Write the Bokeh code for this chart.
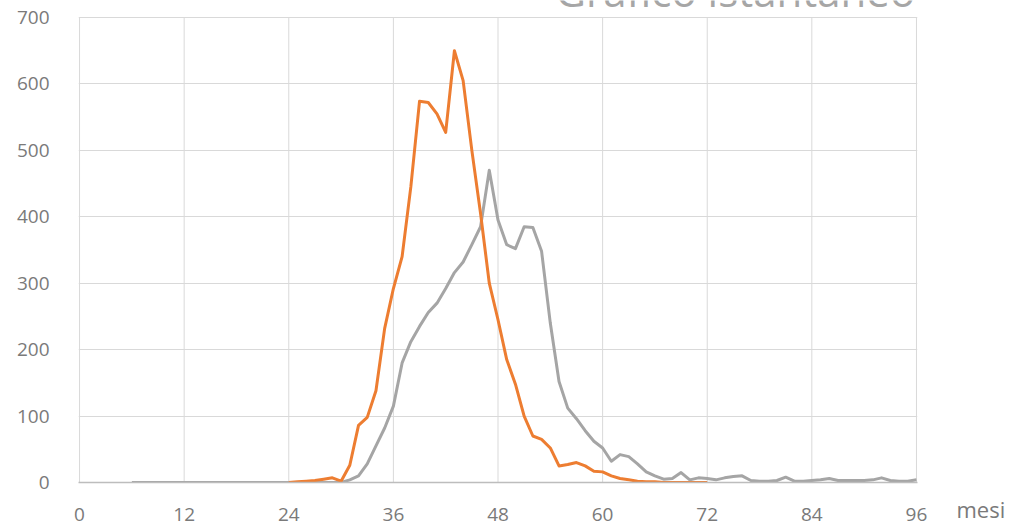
from bokeh.plotting import figure
from bokeh.models import FixedTicker, Label, Range1d
from bokeh.embed import file_html
from bokeh.resources import INLINE

# ---- data ----
x_ticks = [0, 12, 24, 36, 48, 60, 72, 84, 96]
y_ticks = [0, 100, 200, 300, 400, 500, 600, 700]
y_max = 700

gray_months = list(range(6, 97))
gray_values = [0] * 24 + [
    0, 4, 10, 28, 55, 82, 115, 180, 212, 235,      # 30-39
    256, 270, 292, 316, 332, 358, 385, 470, 395, 358,  # 40-49
    352, 385, 384, 348, 240, 152, 112, 96, 78, 62,  # 50-59
    52, 32, 42, 39, 28, 16, 10, 5, 6, 15,           # 60-69
    4, 7, 6, 4, 7, 9, 10, 3, 2, 2,                  # 70-79
    3, 8, 2, 2, 3, 4, 6, 3, 3, 3,                   # 80-89
    3, 4, 7, 3, 2, 2, 4,                            # 90-96
]

orange_months = list(range(24, 73))
orange_values = [
    0, 1, 2, 3, 5, 7,                               # 24-29
    2, 26, 86, 98, 138, 232, 292, 340, 445, 574,    # 30-39
    572, 555, 527, 650, 605, 500, 405, 300, 245, 185,  # 40-49
    148, 100, 70, 65, 52, 25, 27, 30, 25, 17,       # 50-59
    16, 10, 6, 4, 2, 1, 1, 0, 0, 0,                 # 60-69
    0, 0, 0,                                        # 70-72
]

title_text = "Grafico istantaneo"
x_unit_text = "mesi"

# ---- figure ----
# frame reaches the top of the canvas so the (cut-off) title is not clipped
p = figure(width=1012, height=526, output_backend="svg", toolbar_location=None,
           x_range=Range1d(-0.12, 96.12), y_range=Range1d(0, 725.6),
           min_border_left=78, min_border_right=95, min_border_top=0,
           min_border_bottom=44)
p.outline_line_color = None
p.background_fill_color = "white"
p.border_fill_color = "white"

tick_color = "#7a7a7a"
grid_color = "#d9d9d9"
font = "Open Sans"

p.xaxis.ticker = FixedTicker(ticks=x_ticks)
p.yaxis.ticker = FixedTicker(ticks=y_ticks)
for ax in (p.xaxis, p.yaxis):
    ax.major_tick_line_color = None
    ax.minor_tick_line_color = None
    ax.major_label_text_color = tick_color
    ax.major_label_text_font = font
    ax.major_label_text_font_size = "19px"
p.xaxis.axis_line_color = "#bdbdbd"
p.xaxis.axis_line_width = 1.5
p.yaxis.axis_line_color = None
p.xaxis.major_label_standoff = 19
p.yaxis.major_label_standoff = 23

# horizontal grid from the axis ticker, vertical grid lines stop at 700
p.ygrid.ticker = FixedTicker(ticks=y_ticks)
p.ygrid.grid_line_color = grid_color
p.ygrid.grid_line_width = 1
p.xgrid.visible = False
p.segment(x0=x_ticks, y0=[0] * len(x_ticks), x1=x_ticks,
          y1=[y_max] * len(x_ticks), line_color=grid_color, line_width=1)

p.line(gray_months, gray_values, line_color="#a5a5a5", line_width=3,
       line_join="round")
p.line(orange_months, orange_values, line_color="#ed7d31", line_width=3,
       line_join="round")

p.add_layout(Label(x=477, y=492, x_units="screen", y_units="screen",
                   text=title_text, text_font=font,
                   text_font_size="42px", text_color="#a6a6a6",
                   text_baseline="alphabetic", text_align="left"))
p.add_layout(Label(x=39, y=-26, x_units="screen", y_units="screen",
                   text=x_unit_text, text_font=font,
                   text_font_size="22px", text_color=tick_color,
                   text_baseline="middle", text_align="left"), "right")

open("out.html", "w").write(file_html(p, INLINE))
